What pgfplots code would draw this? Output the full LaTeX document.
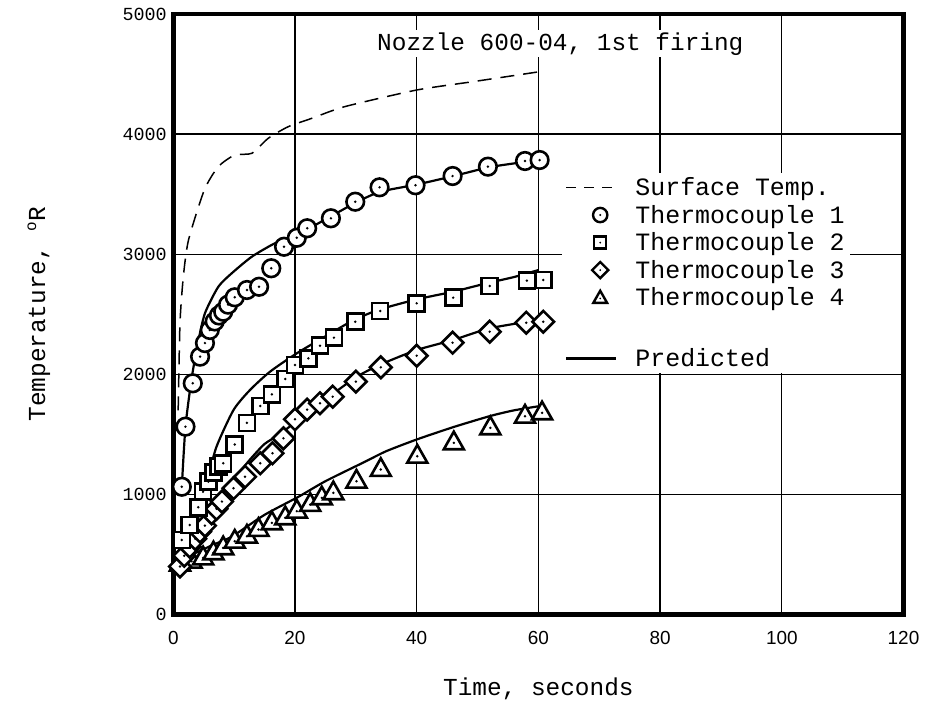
\documentclass[border=0pt]{standalone}
\usepackage{fontspec}
\setmainfont{Liberation Mono}
\newfontfamily\sansf{Liberation Sans}
\usepackage{pgfplots}
\pgfplotsset{compat=1.18}

\pgfdeclareplotmark{codot}{%
  \pgfpathcircle{\pgfpointorigin}{1.1\pgfplotmarksize}\pgfusepathqfillstroke
  \pgfscope\pgfsetfillcolor{black}%
  \pgfpathcircle{\pgfpointorigin}{0.17\pgfplotmarksize}\pgfusepathqfill\endpgfscope}
\pgfdeclareplotmark{csqdot}{%
  \pgfpathrectangle{\pgfpoint{-\pgfplotmarksize}{-\pgfplotmarksize}}{\pgfpoint{2\pgfplotmarksize}{2\pgfplotmarksize}}\pgfusepathqfillstroke
  \pgfscope\pgfsetfillcolor{black}%
  \pgfpathcircle{\pgfpointorigin}{0.17\pgfplotmarksize}\pgfusepathqfill\endpgfscope}
\pgfdeclareplotmark{cdiadot}{%
  \pgfpathmoveto{\pgfpoint{0pt}{1.35\pgfplotmarksize}}%
  \pgfpathlineto{\pgfpoint{1.35\pgfplotmarksize}{0pt}}%
  \pgfpathlineto{\pgfpoint{0pt}{-1.35\pgfplotmarksize}}%
  \pgfpathlineto{\pgfpoint{-1.35\pgfplotmarksize}{0pt}}%
  \pgfpathclose\pgfusepathqfillstroke
  \pgfscope\pgfsetfillcolor{black}%
  \pgfpathcircle{\pgfpointorigin}{0.17\pgfplotmarksize}\pgfusepathqfill\endpgfscope}
\pgfdeclareplotmark{ctridot}{%
  \pgfpathmoveto{\pgfpoint{0pt}{1.25\pgfplotmarksize}}%
  \pgfpathlineto{\pgfpoint{1.25\pgfplotmarksize}{-0.95\pgfplotmarksize}}%
  \pgfpathlineto{\pgfpoint{-1.25\pgfplotmarksize}{-0.95\pgfplotmarksize}}%
  \pgfpathclose\pgfusepathqfillstroke
  \pgfscope\pgfsetfillcolor{black}%
  \pgfpathcircle{\pgfpoint{0pt}{-0.15\pgfplotmarksize}}{0.17\pgfplotmarksize}\pgfusepathqfill\endpgfscope}

\pgfplotsset{
  mylegline/.style={legend image code/.code={\draw[##1] (0bp,0bp) -- (50bp,0bp);}},
  mylegmark/.style={legend image code/.code={\draw[##1] plot coordinates {(34bp,0bp)};}},
  datamarks/.style={only marks, mark options={fill=white, draw=black, line width=2.6bp, solid}, mark size=8bp},
  pred/.style={black, line width=2.2bp, smooth, tension=0.4, no markers},
}

\pgfplotstableread{
x y
1.4 1064
2.0 1564
3.2 1925
4.4 2147
5.2 2260
6.0 2369
6.8 2440
7.5 2490
8.2 2521
9.0 2580
10.1 2641
12.1 2702
14.1 2729
16.1 2883
18.2 3062
20.3 3137
22.0 3216
25.9 3299
29.9 3437
33.9 3557
39.8 3574
45.9 3651
51.7 3729
57.8 3776
60.2 3784
}\tcone

\pgfplotstableread{
x y
1.4 620
2.7 745
4.1 893
4.9 1022
5.75 1106
6.6 1180
7.4 1230
8.2 1259
10.1 1415
12.1 1596
14.3 1736
16.2 1833
18.4 1961
20.0 2077
22.2 2133
24.1 2238
26.4 2305
29.9 2438
34.0 2527
40.0 2591
46.0 2638
52.0 2735
58.1 2780
60.8 2785
}\tctwo

\pgfplotstableread{
x y
1.1 400
1.8 490
2.7 565
3.6 630
4.4 690
5.2 740
6.3 843
7.1 880
8.0 940
9.9 1051
11.8 1147
14.3 1259
16.3 1342
18.1 1467
20.0 1625
22.0 1706
24.1 1759
26.2 1814
30.0 1939
34.1 2058
40.0 2155
45.9 2263
52.0 2355
58.0 2430
60.8 2438
}\tcthree

\pgfplotstableread{
x y
1.1 430
3.0 454
4.9 481
6.6 523
8.2 565
10.1 620
12.1 662
14.0 718
16.2 773
18.4 815
20.3 870
22.5 926
24.4 981
26.3 1023
30.1 1120
34.1 1217
40.1 1328
46.1 1439
52.1 1564
57.8 1661
60.6 1689
}\tcfour

\pgfplotstableread{
x y
0.8 1700
1.1 2425
1.65 2813
2.5 3118
5.1 3535
7.4 3729
10.1 3826
12.9 3840
15.6 3965
18.9 4062
22.8 4132
28.2 4229
40.0 4367
49.3 4437
59.2 4512
60.0 4520
}\surf

\begin{document}
\begin{tikzpicture}
\useasboundingbox (-173.3bp,-107.5bp) rectangle (751.7bp,614.5bp);
\begin{axis}[
  at={(0,0)}, anchor=south west,
  scale only axis, width=730.2bp, height=600.5bp,
  xmin=0, xmax=120, ymin=0, ymax=5000,
  xtick={0,20,...,120}, ytick={0,1000,...,5000},
  grid=major, major grid style={black, line width=1.3bp},
  major tick length=0pt,
  axis line style={line width=4.5bp},
  /pgf/number format/1000 sep={},
  /pgf/number format/assume math mode=true,
  xticklabel style={font=\sansf\fontsize{19}{19}\selectfont, yshift=-13bp},
  yticklabel style={font=\fontsize{18.5}{18.5}\selectfont, xshift=-3bp},
  xlabel={Time, seconds},
  ylabel={Temperature, \raisebox{0.7ex}{\fontsize{16}{16}\selectfont o}R},
  label style={font=\fontsize{24.5}{24.5}\selectfont},
  xlabel style={at={(axis description cs:0.5,-0.123)}, anchor=center},
  ylabel style={at={(axis description cs:-0.184,0.5)}, anchor=center, rotate=0},
  legend style={at={(0.532,0.736)}, anchor=north west, draw=none, fill=white,
    font=\fontsize{25}{25}\selectfont, row sep=4bp, inner sep=3bp,
    /tikz/every odd column/.style={column sep=16bp}},
  legend cell align=left,
]
\addplot[black, line width=1.5bp, dash pattern=on 14bp off 9bp, smooth, tension=0.4, forget plot] table {\surf};

\addplot[pred, forget plot] coordinates {(1.4,1064) (2.0,1564) (3.0,1960) (4.0,2250) (5.2,2508) (7.4,2729) (9.6,2841) (12.9,2979) (16.7,3091) (20.3,3160) (25,3290) (30,3430) (34,3520) (40,3580) (46,3650) (52,3725) (58,3770) (60.2,3785)};
\addplot[pred, forget plot] coordinates {(3.5,650) (4.5,900) (5.5,1100) (7.1,1397) (9.9,1703) (12.6,1869) (15.9,2022) (20.3,2175) (26.3,2355) (29.9,2458) (34,2541) (40,2624) (46,2688) (51.5,2758) (56,2810) (60,2868)};
\addplot[pred, forget plot] coordinates {(1.0,430) (3,560) (5,730) (7,900) (8.5,1040) (10,1130) (12.6,1290) (15,1420) (17.5,1500) (20,1600) (25,1790) (30,1975) (34,2080) (40,2202) (46,2286) (52,2383) (60,2452)};
\addplot[pred, forget plot] coordinates {(1.0,440) (1.4,470) (4,520) (6.5,580) (9.6,648) (15,830) (20.6,981) (25,1110) (31.5,1272) (35,1360) (40.1,1459) (46,1560) (52.1,1653) (56,1700) (60.3,1736)};

\addplot[datamarks, mark=ctridot, forget plot] table {\tcfour};
\addplot[datamarks, mark=cdiadot, forget plot] table {\tcthree};
\addplot[datamarks, mark=csqdot, forget plot] table {\tctwo};
\addplot[datamarks, mark=codot, forget plot] table {\tcone};

\addlegendimage{mylegline, black, line width=1.5bp, dash pattern=on 10bp off 8bp}
\addlegendentry{Surface Temp.}
\addlegendimage{mylegmark, black, line width=2.4bp, fill=white, mark=codot, mark size=6.5bp}
\addlegendentry{Thermocouple 1}
\addlegendimage{mylegmark, black, line width=2.4bp, fill=white, mark=csqdot, mark size=6bp}
\addlegendentry{Thermocouple 2}
\addlegendimage{mylegmark, black, line width=2.4bp, fill=white, mark=cdiadot, mark size=6bp}
\addlegendentry{Thermocouple 3}
\addlegendimage{mylegmark, black, line width=2.4bp, fill=white, mark=ctridot, mark size=5.5bp}
\addlegendentry{Thermocouple 4}
\addlegendimage{empty legend}
\addlegendentry{\rule{0pt}{24bp}}
\addlegendimage{mylegline, black, line width=2.5bp}
\addlegendentry{Predicted}

\node[anchor=base west, fill=white, inner sep=2bp, font=\fontsize{24.5}{24.5}\selectfont] at (axis cs:33.15,4700) {Nozzle 600-04, 1st firing};
\end{axis}
\end{tikzpicture}
\end{document}
